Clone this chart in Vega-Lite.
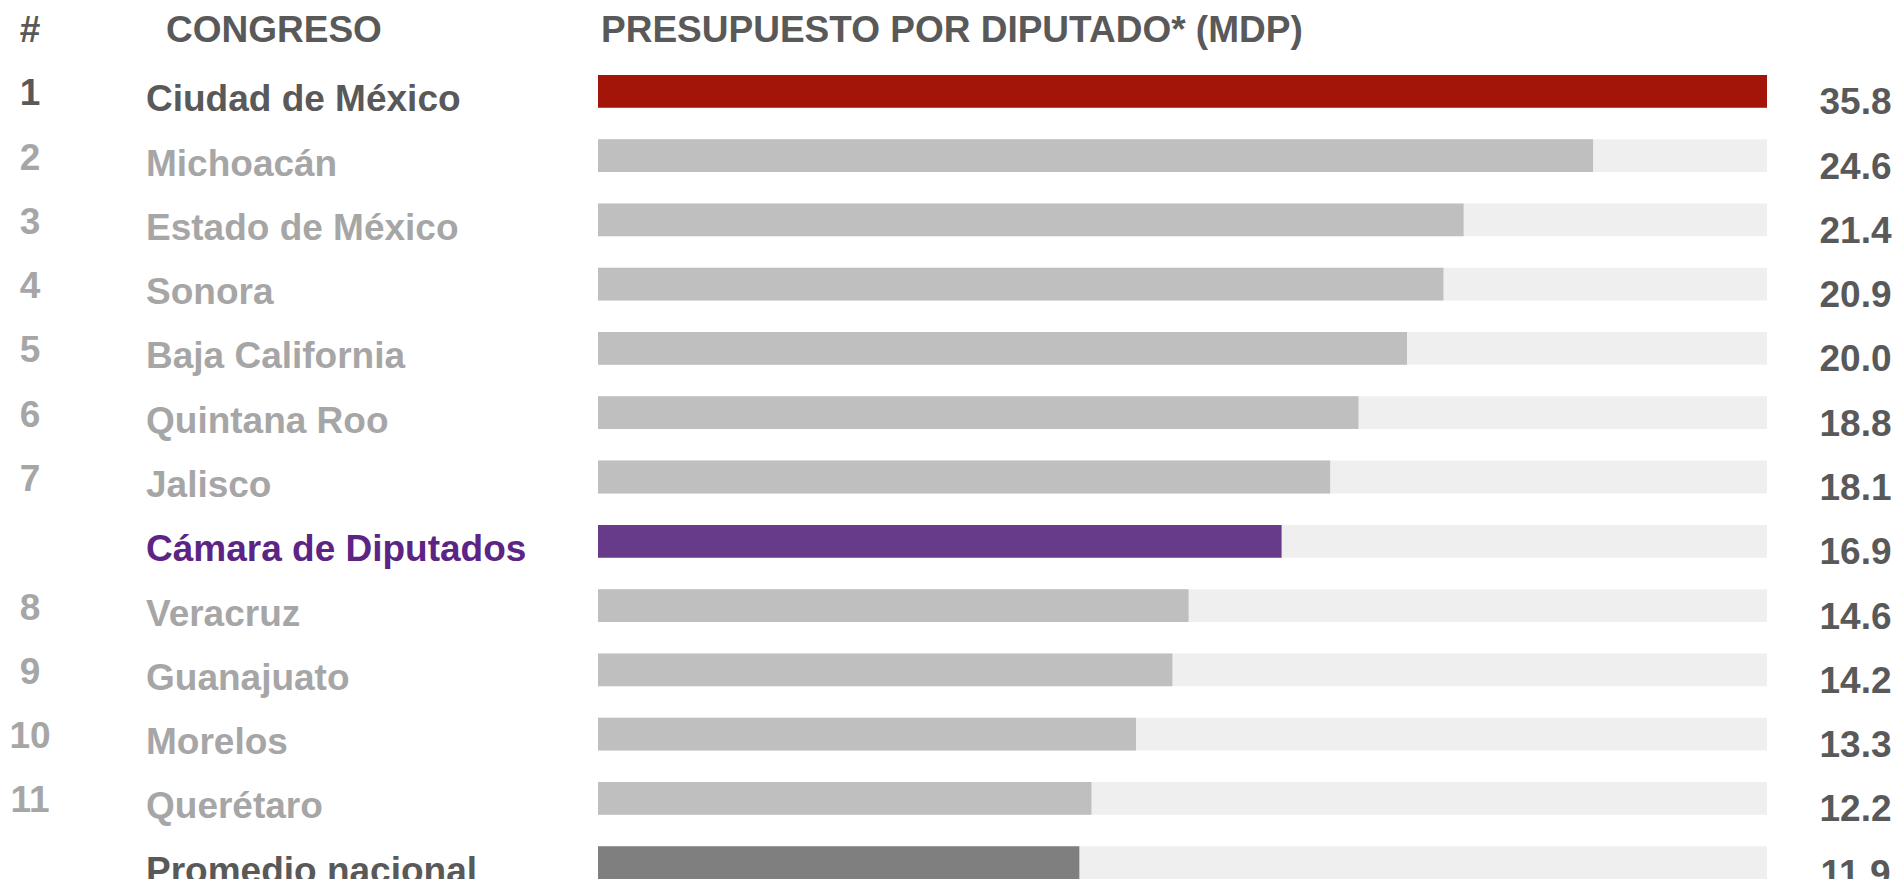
{
  "$schema": "https://vega.github.io/schema/vega-lite/v6.json",
  "background": "white",
  "padding": {"top": 12, "left": 0, "right": 0, "bottom": 0},
  "autosize": {"type": "pad"},
  "config": {
    "view": {"stroke": null},
    "font": "Liberation Sans",
    "title": {
      "font": "Liberation Sans",
      "fontSize": 37,
      "fontWeight": "bold",
      "color": "#595959",
      "baseline": "alphabetic",
      "offset": 25,
      "frame": "group"
    },
    "text": {
      "font": "Liberation Sans",
      "fontSize": 37,
      "fontWeight": "bold"
    }
  },
  "datasets": {
    "rows": [
      {"rank": "1", "name": "Ciudad de México", "value": 35.8, "group": "cdmx"},
      {"rank": "2", "name": "Michoacán", "value": 24.6, "group": "estado"},
      {"rank": "3", "name": "Estado de México", "value": 21.4, "group": "estado"},
      {"rank": "4", "name": "Sonora", "value": 20.9, "group": "estado"},
      {"rank": "5", "name": "Baja California", "value": 20.0, "group": "estado"},
      {"rank": "6", "name": "Quintana Roo", "value": 18.8, "group": "estado"},
      {"rank": "7", "name": "Jalisco", "value": 18.1, "group": "estado"},
      {"rank": "", "name": "Cámara de Diputados", "value": 16.9, "group": "camara"},
      {"rank": "8", "name": "Veracruz", "value": 14.6, "group": "estado"},
      {"rank": "9", "name": "Guanajuato", "value": 14.2, "group": "estado"},
      {"rank": "10", "name": "Morelos", "value": 13.3, "group": "estado"},
      {"rank": "11", "name": "Querétaro", "value": 12.2, "group": "estado"},
      {"rank": "", "name": "Promedio nacional", "value": 11.9, "group": "promedio"}
    ]
  },
  "spacing": 46,
  "resolve": {"scale": {"color": "independent", "y": "independent"}},
  "hconcat": [
    {
      "spacing": 86,
      "resolve": {"scale": {"color": "independent", "y": "independent"}},
      "hconcat": [
        {
          "data": {"name": "rows"},
          "width": 60,
          "height": 804,
          "title": {"text": "#", "anchor": "middle"},
          "mark": {"type": "text", "align": "center", "baseline": "alphabetic", "dy": 14, "clip": true},
          "encoding": {
            "y": {"field": "name", "type": "nominal", "sort": null, "axis": null,
                  "scale": {"type": "band", "paddingInner": 0.49, "paddingOuter": 0}},
            "text": {"field": "rank", "type": "nominal"},
            "color": {"field": "group", "type": "nominal", "legend": null,
                      "scale": {"domain": ["cdmx", "estado", "camara", "promedio"],
                                "range": ["#595959", "#A6A6A6", "#A6A6A6", "#595959"]}}
          }
        },
        {
          "spacing": 0,
          "resolve": {"scale": {"color": "independent", "y": "independent"}},
          "hconcat": [
            {
              "data": {"name": "rows"},
              "width": 452,
              "height": 804,
              "title": {"text": "CONGRESO", "anchor": "start", "dx": 20},
              "mark": {"type": "text", "align": "left", "baseline": "alphabetic", "dy": 20, "clip": true},
              "encoding": {
                "x": {"value": 0},
                "y": {"field": "name", "type": "nominal", "sort": null, "axis": null,
                      "scale": {"type": "band", "paddingInner": 0.49, "paddingOuter": 0}},
                "text": {"field": "name", "type": "nominal"},
                "color": {"field": "group", "type": "nominal", "legend": null,
                          "scale": {"domain": ["cdmx", "estado", "camara", "promedio"],
                                    "range": ["#595959", "#A6A6A6", "#5C2484", "#595959"]}}
              }
            },
            {
              "data": {"name": "rows"},
              "width": 1169,
              "height": 804,
              "title": {"text": "PRESUPUESTO POR DIPUTADO* (MDP)", "anchor": "start", "dx": 3},
              "transform": [{"joinaggregate": [{"op": "max", "field": "value", "as": "max_value"}]}],
              "encoding": {
                "y": {"field": "name", "type": "nominal", "sort": null, "axis": null,
                      "scale": {"type": "band", "paddingInner": 0.49, "paddingOuter": 0}}
              },
              "layer": [
                {
                  "mark": {"type": "bar", "color": "#EFEFEF"},
                  "encoding": {
                    "x": {"field": "max_value", "type": "quantitative", "axis": null,
                          "scale": {"domain": [0, 28.9], "clamp": true, "nice": false, "zero": true}}
                  }
                },
                {
                  "mark": {"type": "bar"},
                  "encoding": {
                    "x": {"field": "value", "type": "quantitative", "axis": null,
                          "scale": {"domain": [0, 28.9], "clamp": true, "nice": false, "zero": true}},
                    "color": {"field": "group", "type": "nominal", "legend": null,
                              "scale": {"domain": ["cdmx", "estado", "camara", "promedio"],
                                        "range": ["#A31508", "#BFBFBF", "#673A8A", "#7F7F7F"]}}
                  }
                }
              ]
            }
          ]
        }
      ]
    },
    {
      "data": {"name": "rows"},
      "width": 85,
      "height": 804,
      "mark": {"type": "text", "align": "center", "baseline": "alphabetic", "dy": 23, "clip": true, "color": "#595959"},
      "encoding": {
        "y": {"field": "name", "type": "nominal", "sort": null, "axis": null,
              "scale": {"type": "band", "paddingInner": 0.49, "paddingOuter": 0}},
        "text": {"field": "value", "type": "quantitative", "format": ".1f"}
      }
    }
  ]
}
